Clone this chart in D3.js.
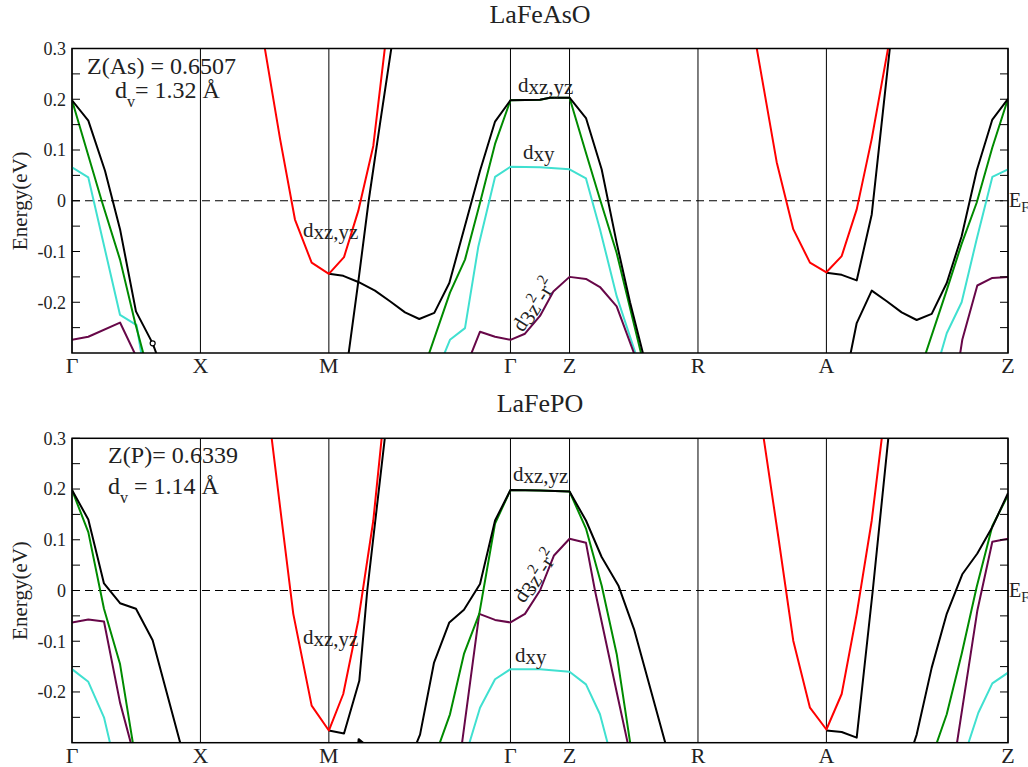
<!DOCTYPE html>
<html>
<head>
<meta charset="utf-8">
<script src="https://cdn.jsdelivr.net/npm/d3@7"></script>
<style>
body { margin: 0; background: #fff; }
svg text { font-family: "Liberation Serif", "DejaVu Serif", serif; fill: #222; }
</style>
</head>
<body>
<svg width="1028" height="767" font-family="Liberation Serif, DejaVu Serif, serif"></svg>
<script>
// high-symmetry path (distance along k-path, Gamma-X = 1)
var kLabels = ["\u0393", "X", "M", "\u0393", "Z", "R", "A", "Z"];
var kTicks = [0, 1, 2, 3.414, 3.874, 4.874, 5.874, 7.288];
var eTicks = [0.3, 0.2, 0.1, 0, -0.1, -0.2];
var eMinor = [0.25, 0.15, 0.05, -0.05, -0.15, -0.25];

// ---- LaFeAsO bands [k, E(eV)] ----
var asBlack1 = [[0,0.198],[0.127,0.158],[0.257,0.059],[0.374,-0.056],[0.498,-0.218],[0.628,-0.281],[0.67,-0.31]];
var asGreen1 = [[0,0.198],[0.231,0],[0.374,-0.116],[0.491,-0.24],[0.565,-0.31]];
var asCyan1 = [[0,0.066],[0.127,0.046],[0.374,-0.225],[0.503,-0.245],[0.545,-0.31]];
var asPurple1 = [[0,-0.274],[0.127,-0.268],[0.374,-0.24],[0.506,-0.31]];
var asRedM = [[1.495,0.31],[1.62,0.122],[1.736,-0.037],[1.866,-0.122],[2,-0.144],[2.118,-0.111],[2.229,-0.02],[2.346,0.108],[2.437,0.303],[2.445,0.31]];
var asBlackM = [[2,-0.144],[2.112,-0.148],[2.229,-0.16],[2.359,-0.177],[2.476,-0.198],[2.593,-0.22],[2.704,-0.233],[2.821,-0.221],[2.938,-0.162],[3.177,0.059],[3.294,0.156],[3.414,0.198],[3.644,0.199],[3.722,0.203],[3.874,0.203],[4.002,0.163],[4.124,0.062],[4.241,-0.083],[4.345,-0.2],[4.455,-0.31]];
var asBlackSteep = [[2.149,-0.31],[2.229,-0.16],[2.31,0],[2.40,0.155],[2.492,0.31]];
var asGreenM = [[2.768,-0.31],[2.943,-0.181],[3.06,-0.116],[3.177,-0.004],[3.294,0.112],[3.414,0.198],[3.644,0.199],[3.722,0.203],[3.874,0.203],[4.008,0.089],[4.111,0.003],[4.241,-0.103],[4.44,-0.31]];
var asCyanM = [[2.885,-0.31],[2.943,-0.274],[3.06,-0.251],[3.164,-0.09],[3.294,0.047],[3.414,0.067],[3.644,0.066],[3.874,0.062],[4.002,0.044],[4.111,-0.056],[4.241,-0.188],[4.40,-0.31]];
var asPurpleM = [[3.095,-0.31],[3.177,-0.258],[3.294,-0.268],[3.414,-0.274],[3.527,-0.262],[3.644,-0.227],[3.748,-0.179],[3.874,-0.15],[4.002,-0.154],[4.111,-0.17],[4.241,-0.208],[4.39,-0.31]];
var asRedA = [[5.325,0.31],[5.487,0.076],[5.616,-0.056],[5.746,-0.122],[5.874,-0.141],[5.993,-0.109],[6.11,-0.017],[6.227,0.122],[6.356,0.303],[6.36,0.31]];
var asBlackA = [[5.874,-0.142],[5.993,-0.146],[6.11,-0.157],[6.227,-0.027],[6.372,0.31]];
var asBlackZ = [[6.055,-0.31],[6.11,-0.241],[6.227,-0.177],[6.344,-0.198],[6.46,-0.22],[6.577,-0.235],[6.694,-0.223],[6.811,-0.162],[6.927,-0.07],[7.044,0.059],[7.166,0.16],[7.288,0.201]];
var asGreenZ = [[6.635,-0.31],[6.811,-0.176],[6.927,-0.085],[7.044,-0.004],[7.166,0.105],[7.288,0.201]];
var asCyanZ = [[6.755,-0.31],[6.811,-0.261],[6.927,-0.2],[7.044,-0.076],[7.166,0.047],[7.288,0.062]];
var asPurpleZ = [[6.91,-0.31],[6.932,-0.274],[7.049,-0.167],[7.166,-0.152],[7.288,-0.15]];
var asMarks = [[0.628,-0.281]];

// ---- LaFePO bands ----
var pBlack1 = [[0,0.198],[0.127,0.14],[0.249,0.014],[0.374,-0.025],[0.498,-0.036],[0.628,-0.098],[0.853,-0.31]];
var pGreen1 = [[0,0.198],[0.127,0.115],[0.249,-0.036],[0.374,-0.145],[0.48,-0.31]];
var pPurple1 = [[0,-0.063],[0.127,-0.057],[0.249,-0.061],[0.374,-0.221],[0.468,-0.31]];
var pCyan1 = [[0,-0.155],[0.127,-0.18],[0.249,-0.25],[0.305,-0.31]];
var pRedM = [[1.55,0.31],[1.633,0.138],[1.723,-0.046],[1.866,-0.227],[2,-0.276],[2.112,-0.204],[2.229,-0.059],[2.346,0.138],[2.415,0.31]];
var pBlackM = [[2,-0.276],[2.118,-0.282],[2.237,-0.178],[2.299,0],[2.44,0.31]];
var pBlackTiny = [[2.226,-0.31],[2.232,-0.293],[2.29,-0.305]];
var pBlackG = [[2.668,-0.31],[2.71,-0.284],[2.819,-0.142],[2.938,-0.063],[3.052,-0.038],[3.177,0.013],[3.294,0.138],[3.414,0.198],[3.644,0.197],[3.874,0.195],[4.002,0.138],[4.124,0.066],[4.254,0.01],[4.376,-0.076],[4.63,-0.31]];
var pGreenG = [[2.85,-0.31],[2.943,-0.244],[3.052,-0.125],[3.171,-0.046],[3.294,0.132],[3.414,0.198],[3.644,0.197],[3.874,0.195],[4.002,0.122],[4.124,0.01],[4.241,-0.125],[4.352,-0.31]];
var pPurpleG = [[3.032,-0.31],[3.171,-0.046],[3.294,-0.058],[3.414,-0.063],[3.527,-0.046],[3.644,0],[3.753,0.069],[3.874,0.102],[4.002,0.094],[4.072,0],[4.241,-0.2],[4.335,-0.31]];
var pCyanG = [[3.083,-0.31],[3.177,-0.231],[3.294,-0.175],[3.414,-0.155],[3.644,-0.155],[3.874,-0.16],[4.002,-0.185],[4.111,-0.244],[4.18,-0.31]];
var pRedA = [[5.38,0.31],[5.5,0.105],[5.616,-0.099],[5.746,-0.231],[5.874,-0.274],[5.993,-0.204],[6.11,-0.046],[6.227,0.138],[6.31,0.31]];
var pBlackA = [[5.874,-0.276],[5.993,-0.279],[6.11,-0.29],[6.235,0],[6.36,0.31]];
var pBlackZ = [[6.543,-0.31],[6.577,-0.284],[6.694,-0.152],[6.811,-0.046],[6.932,0.032],[7.049,0.073],[7.166,0.125],[7.288,0.192]];
var pGreenZ = [[6.72,-0.31],[6.811,-0.244],[6.927,-0.125],[7.044,0.007],[7.166,0.127],[7.288,0.188]];
var pPurpleZ = [[6.885,-0.31],[7.049,-0.04],[7.166,0.096],[7.288,0.102]];
var pCyanZ = [[6.968,-0.31],[7.057,-0.241],[7.166,-0.183],[7.288,-0.162]];

var cBlack = "#000", cGreen = "#008b00", cCyan = "#40e0d0", cPurple = "#670748", cRed = "#ff0000";
var serif = "'Liberation Serif', 'DejaVu Serif', serif";

var panels = [
    { title: "LaFeAsO", titleY: 23, top: 48.5, bottom: 353,
      bands: [[asCyan1, cCyan], [asCyanM, cCyan], [asCyanZ, cCyan],
              [asPurple1, cPurple], [asPurpleM, cPurple], [asPurpleZ, cPurple],
              [asGreen1, cGreen], [asGreenM, cGreen], [asGreenZ, cGreen],
              [asBlack1, cBlack], [asBlackM, cBlack], [asBlackSteep, cBlack], [asBlackA, cBlack], [asBlackZ, cBlack],
              [asRedM, cRed], [asRedA, cRed]],
      marks: asMarks,
      info: [{x: 87, y: 74, len: 149, parts: [["Z(As) = 0.6507"]]},
             {x: 115, y: 98, parts: [["d"], ["v", 9, 16], ["=  1.32 \u00c5", -9]]}],
      labels: [{x: 518, y: 92, parts: [["d"], ["xz,yz", 2]]},
               {x: 523, y: 159, parts: [["d"], ["xy", 2]]},
               {x: 303, y: 237, parts: [["d"], ["xz,yz", 2]]},
               {x: 523, y: 333, rot: -58, parts: [["d"], ["3z", 3], ["2", -10, 15], ["-r", 10], ["2", -10, 15]]}] },
    { title: "LaFePO", titleY: 412, top: 438.3, bottom: 742.7,
      bands: [[pCyan1, cCyan], [pCyanG, cCyan], [pCyanZ, cCyan],
              [pPurple1, cPurple], [pPurpleG, cPurple], [pPurpleZ, cPurple],
              [pGreen1, cGreen], [pGreenG, cGreen], [pGreenZ, cGreen],
              [pBlack1, cBlack], [pBlackM, cBlack], [pBlackTiny, cBlack], [pBlackG, cBlack], [pBlackA, cBlack], [pBlackZ, cBlack],
              [pRedM, cRed], [pRedA, cRed]],
      marks: [],
      info: [{x: 108, y: 463, len: 130, parts: [["Z(P)= 0.6339"]]},
             {x: 108, y: 494, parts: [["d"], ["v", 9, 16], [" = 1.14 \u00c5", -9]]}],
      labels: [{x: 513, y: 481, parts: [["d"], ["xz,yz", 2]]},
               {x: 303, y: 644, parts: [["d"], ["xz,yz", 2]]},
               {x: 515, y: 662, parts: [["d"], ["xy", 2]]},
               {x: 524, y: 604, rot: -57, parts: [["d"], ["3z", 3], ["2", -10, 15], ["-r", 10], ["2", -10, 15]]}] }
];

var svg = d3.select("svg");
var x = d3.scaleLinear().domain([0, 7.288]).range([72, 1008]);

function txt(sel) {
    return sel.append("text").attr("font-family", serif).attr("fill", "#222");
}

function addParts(t, parts, size) {
    parts.forEach(function(p) {
        var s = t.append("tspan").text(p[0]);
        if (p[1]) s.attr("dy", p[1]);
        s.attr("font-size", (p[2] || size));
    });
}

panels.forEach(function(p, pi) {
    var y = d3.scaleLinear().domain([-0.3, 0.3]).range([p.bottom, p.top]);
    var g = svg.append("g");

    g.append("clipPath").attr("id", "clip" + pi)
        .append("rect").attr("x", x(0)).attr("y", y(0.3))
        .attr("width", x(7.288) - x(0)).attr("height", y(-0.3) - y(0.3));

    // high-symmetry lines
    g.selectAll(".kline").data(kTicks).enter().append("line")
        .attr("x1", function(d) { return x(d); }).attr("x2", function(d) { return x(d); })
        .attr("y1", y(0.3)).attr("y2", y(-0.3))
        .attr("stroke", "#000").attr("stroke-width", 1);

    // Fermi level
    g.append("line")
        .attr("x1", x(0)).attr("x2", x(7.288))
        .attr("y1", y(0)).attr("y2", y(0))
        .attr("stroke", "#000").attr("stroke-width", 1.2)
        .attr("stroke-dasharray", "8,5");

    var line = d3.line().x(function(d) { return x(d[0]); }).y(function(d) { return y(d[1]); });
    var bg = g.append("g").attr("clip-path", "url(#clip" + pi + ")");
    bg.selectAll("path").data(p.bands).enter().append("path")
        .attr("d", function(d) { return line(d[0]); })
        .attr("fill", "none")
        .attr("stroke", function(d) { return d[1]; })
        .attr("stroke-width", 2)
        .attr("stroke-linejoin", "round");

    bg.selectAll("circle").data(p.marks).enter().append("circle")
        .attr("cx", function(d) { return x(d[0]); }).attr("cy", function(d) { return y(d[1]); })
        .attr("r", 2.5).attr("fill", "#fff").attr("stroke", "#000").attr("stroke-width", 1.2);

    // frame
    g.append("rect")
        .attr("x", x(0)).attr("y", y(0.3))
        .attr("width", x(7.288) - x(0)).attr("height", y(-0.3) - y(0.3))
        .attr("fill", "none").attr("stroke", "#000").attr("stroke-width", 1.5);

    // inward ticks on both sides
    var allTicks = eTicks.concat(eMinor);
    [x(0), x(7.288)].forEach(function(xx, side) {
        var dir = side === 0 ? 1 : -1;
        g.selectAll(null).data(allTicks).enter().append("line")
            .attr("x1", xx).attr("x2", xx + dir * 8)
            .attr("y1", function(d) { return y(d); }).attr("y2", function(d) { return y(d); })
            .attr("stroke", "#000").attr("stroke-width", 1);
    });

    eTicks.forEach(function(d) {
        txt(g).attr("x", x(0) - 6).attr("y", y(d))
            .attr("dy", "0.35em").attr("text-anchor", "end")
            .attr("font-size", 18)
            .text(d === 0 ? "0" : d3.format(".1f")(d).replace("\u2212", "-"));
    });

    kTicks.forEach(function(d, i) {
        txt(g).attr("x", x(d)).attr("y", p.bottom + 20)
            .attr("text-anchor", "middle").attr("font-size", 22)
            .text(kLabels[i]);
    });

    txt(g).attr("transform", "translate(27," + y(0) + ")rotate(-90)")
        .attr("text-anchor", "middle").attr("font-size", 21)
        .text("Energy(eV)");

    txt(g).attr("x", 540).attr("y", p.titleY)
        .attr("text-anchor", "middle").attr("font-size", 26)
        .text(p.title);

    var ef = txt(g).attr("x", 1009).attr("y", y(0) + 6);
    addParts(ef, [["E"], ["F", 5, 14]], 20);

    p.info.forEach(function(a) {
        var t = txt(g).attr("x", a.x).attr("y", a.y);
        if (a.len) t.attr("textLength", a.len).attr("lengthAdjust", "spacing");
        addParts(t, a.parts, 24);
    });

    p.labels.forEach(function(a) {
        var t = txt(g).attr("x", a.x).attr("y", a.y);
        if (a.rot) t.attr("transform", "rotate(" + a.rot + "," + a.x + "," + a.y + ")");
        addParts(t, a.parts, 21);
    });
});
</script>
</body>
</html>
